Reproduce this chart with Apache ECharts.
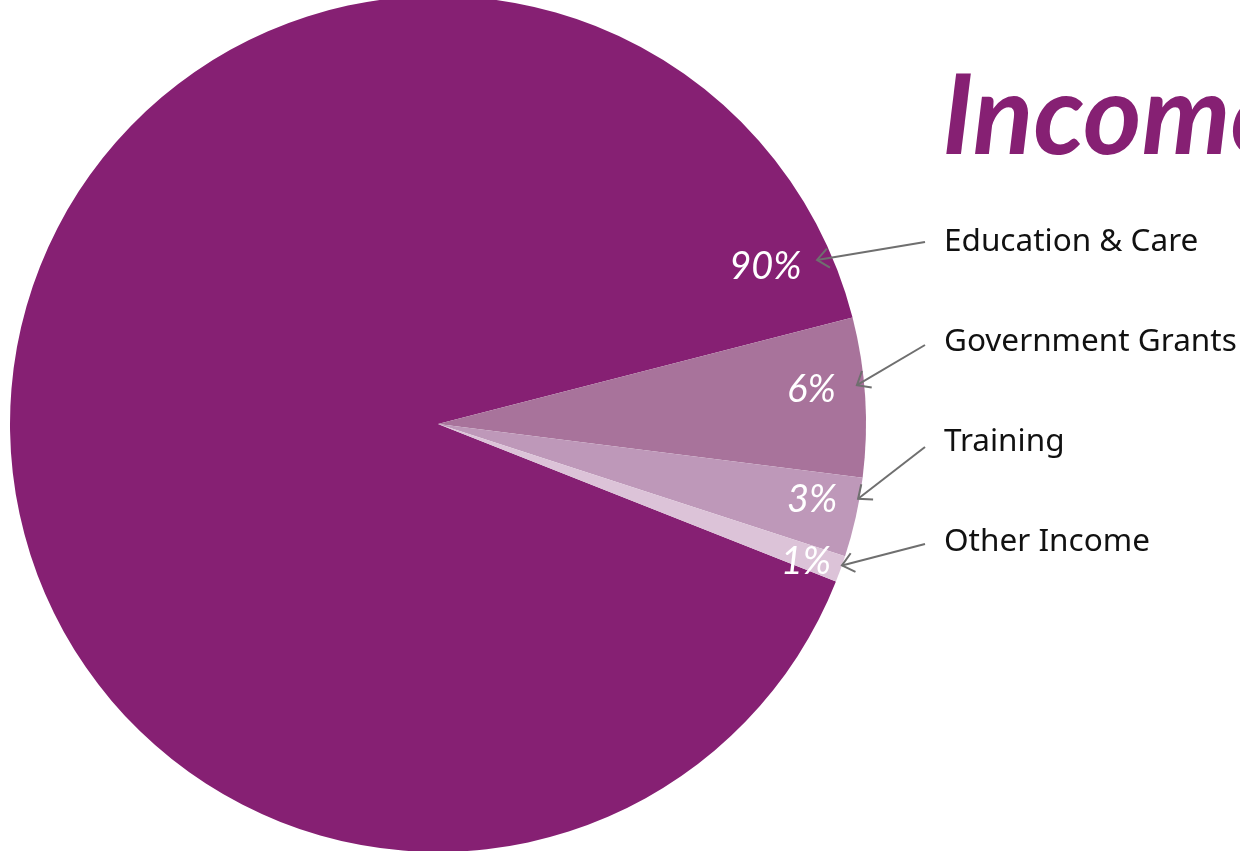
<!DOCTYPE html>
<html><head><meta charset="utf-8">
<script src="https://cdn.jsdelivr.net/npm/echarts@6/dist/echarts.min.js"></script>
<style>html,body{margin:0;padding:0;background:#fff}#c{width:1240px;height:851px}</style>
</head><body><div id="c"></div>
<script>
// ---- data ----
const categories = ['Education & Care', 'Government Grants', 'Training', 'Other Income'];
const shares = [90, 6, 3, 1];
const sliceColors = ['#862073', '#a8739b', '#be98b9', '#dcc3d8'];
const titleText = 'Income';

// ---- layout ----
const CX = 438, CY = 424, R = 428, START = -21.6;
const pctPolar = [[25.6, 0.848], [5.2, 0.876], [-11.5, 0.892], [-20.6, 0.918]];   // label centre (deg, r fraction)
const tipPolar = [[23.4, 0.965], [5.3, 0.983], [-10.1, 0.997], [-19.3, 1.0]]; // arrow tip
const legendX = 944, legendY0 = 242, legendStep = 100;
const tailDy = [0, 3, 5, 2];

function polar(deg, frac) {
  const a = deg * Math.PI / 180;
  return [CX + R * frac * Math.cos(a), CY - R * frac * Math.sin(a)];
}

const chart = echarts.init(document.getElementById('c'), null, {renderer: 'canvas'});
const graphics = [];

// title
graphics.push({
  type: 'text', left: 942, top: 62, z: 100,
  style: {text: titleText, fill: '#862073', font: 'italic bold 112px Lato', textVerticalAlign: 'top'}
});

categories.forEach((name, i) => {
  const ty = legendY0 + i * legendStep;
  graphics.push({
    type: 'text', x: legendX, y: ty, z: 100,
    style: {text: name, fill: '#111', font: '31.5px "Noto Sans"', verticalAlign: 'middle', align: 'left'}
  });
  const p = polar(pctPolar[i][0], pctPolar[i][1]);
  graphics.push({
    type: 'text', x: p[0], y: p[1], z: 100,
    style: {text: shares[i] + '%', fill: '#fff', font: 'italic 38px Lato', align: 'center', verticalAlign: 'middle'}
  });
  const tip = polar(tipPolar[i][0], tipPolar[i][1]);
  const tail = [legendX - 19, ty + tailDy[i]];
  graphics.push({
    type: 'line', z: 100, shape: {x1: tail[0], y1: tail[1], x2: tip[0], y2: tip[1]},
    style: {stroke: '#6f6f6f', lineWidth: 2}
  });
  const dx = tail[0] - tip[0], dy = tail[1] - tip[1];
  const len = Math.hypot(dx, dy), ux = dx / len, uy = dy / len;
  const L = 15, al = 40 * Math.PI / 180;
  const rot = (s) => [tip[0] + L * (ux * Math.cos(s) - uy * Math.sin(s)), tip[1] + L * (ux * Math.sin(s) + uy * Math.cos(s))];
  graphics.push({
    type: 'polyline', z: 100, shape: {points: [rot(al), tip, rot(-al)]},
    style: {stroke: '#6f6f6f', lineWidth: 2, fill: null}
  });
});

chart.setOption({
  animation: false,
  backgroundColor: '#ffffff',
  series: [{
    type: 'pie',
    z: 1,
    center: [CX, CY],
    radius: R,
    startAngle: START,
    clockwise: true,
    silent: true,
    label: {show: false},
    labelLine: {show: false},
    itemStyle: {borderWidth: 0},
    data: categories.map((n, i) => ({name: n, value: shares[i], itemStyle: {color: sliceColors[i]}}))
  }],
  graphic: {elements: graphics}
});
</script></body></html>
